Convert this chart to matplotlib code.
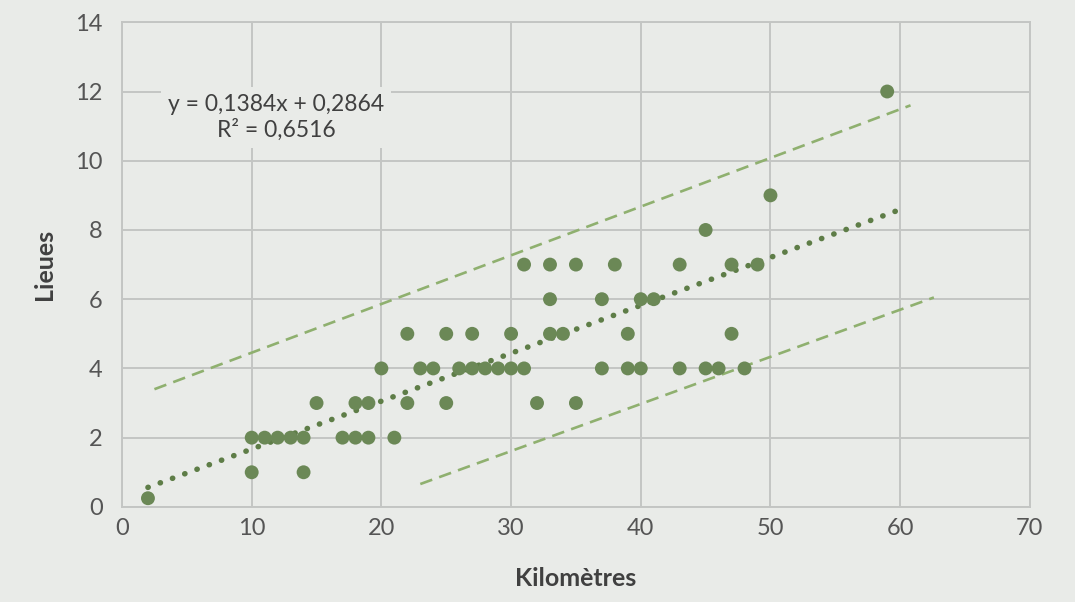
import matplotlib
matplotlib.use("Agg")
import matplotlib.pyplot as plt
import numpy as np

plt.rcParams['font.family'] = ['Lato', 'DejaVu Sans']

# distances (km) and lieues
km = [2, 10, 10, 11, 12, 13, 14, 14, 15, 17, 18, 18, 19, 19, 20, 21, 22, 22,
      23, 24, 25, 25, 26, 27, 27, 28, 29, 30, 30, 31, 31, 32, 33, 33, 33, 34,
      35, 35, 37, 37, 38, 39, 39, 40, 40, 41, 43, 43, 45, 45, 46, 47, 47, 48,
      49, 50, 59]
lieues = [0.25, 1, 2, 2, 2, 2, 2, 1, 3, 2, 2, 3, 2, 3, 4, 2, 3, 5,
          4, 4, 5, 3, 4, 5, 4, 4, 4, 5, 4, 7, 4, 3, 7, 6, 5, 5,
          7, 3, 6, 4, 7, 5, 4, 6, 4, 6, 7, 4, 8, 4, 4, 7, 5, 4,
          7, 9, 12]

# linear fit shown in the chart
slope = 0.1384
intercept = 0.2864
fit_x = [2, 60.5]

# dashed envelope lines (end points)
upper_x = [2.5, 60.8]
upper_y = [3.4, 11.6]
lower_x = [23.0, 62.6]
lower_y = [0.66, 6.05]

bg = '#e9ebe8'
grid_col = '#c3c5c3'
dot_col = '#6b8856'
dash_col = '#8fb06f'
tick_col = '#555555'
label_col = '#404040'

fig = plt.figure(figsize=(10.75, 6.02), dpi=100, facecolor=bg)
ax = fig.add_axes([0.1135, 0.158, 0.8445, 0.805])
ax.set_facecolor(bg)

ax.plot(upper_x, upper_y, color=dash_col, lw=1.9, dashes=(4.8, 2.8), zorder=2)
ax.plot(lower_x, lower_y, color=dash_col, lw=1.9, dashes=(4.8, 2.8), zorder=2)

fx = np.array(fit_x)
ax.plot(fx, slope * fx + intercept, color='#5e7d47', lw=4.0,
        dashes=(0.05, 2.3), dash_capstyle='round', zorder=3)

ax.scatter(km, lieues, s=100, color=dot_col, edgecolors='none', zorder=4)

ax.set_xlim(0, 70)
ax.set_ylim(0, 14)
ax.set_xticks(range(0, 71, 10))
ax.set_yticks(range(0, 15, 2))
ax.grid(True, color=grid_col, lw=1.4)
ax.set_axisbelow(True)
for s in ax.spines.values():
    s.set_color(grid_col)
    s.set_linewidth(1.4)
ax.tick_params(length=0, labelsize=17, colors=tick_col)
ax.tick_params(axis='x', pad=8)
ax.tick_params(axis='y', pad=14)

ax.set_xlabel('Kilomètres', fontsize=18, fontweight='bold', color=label_col, labelpad=20)
ax.set_ylabel('Lieues', fontsize=18, fontweight='bold', color=label_col, labelpad=14)

ax.text(11.9, 11.25, 'y = 0,1384x + 0,2864\nR² = 0,6516', ha='center', va='center',
        fontsize=16.5, color=label_col, linespacing=1.25,
        bbox=dict(facecolor=bg, edgecolor='none', pad=5), zorder=5)

fig.savefig('out.png', dpi=100, facecolor=bg)
